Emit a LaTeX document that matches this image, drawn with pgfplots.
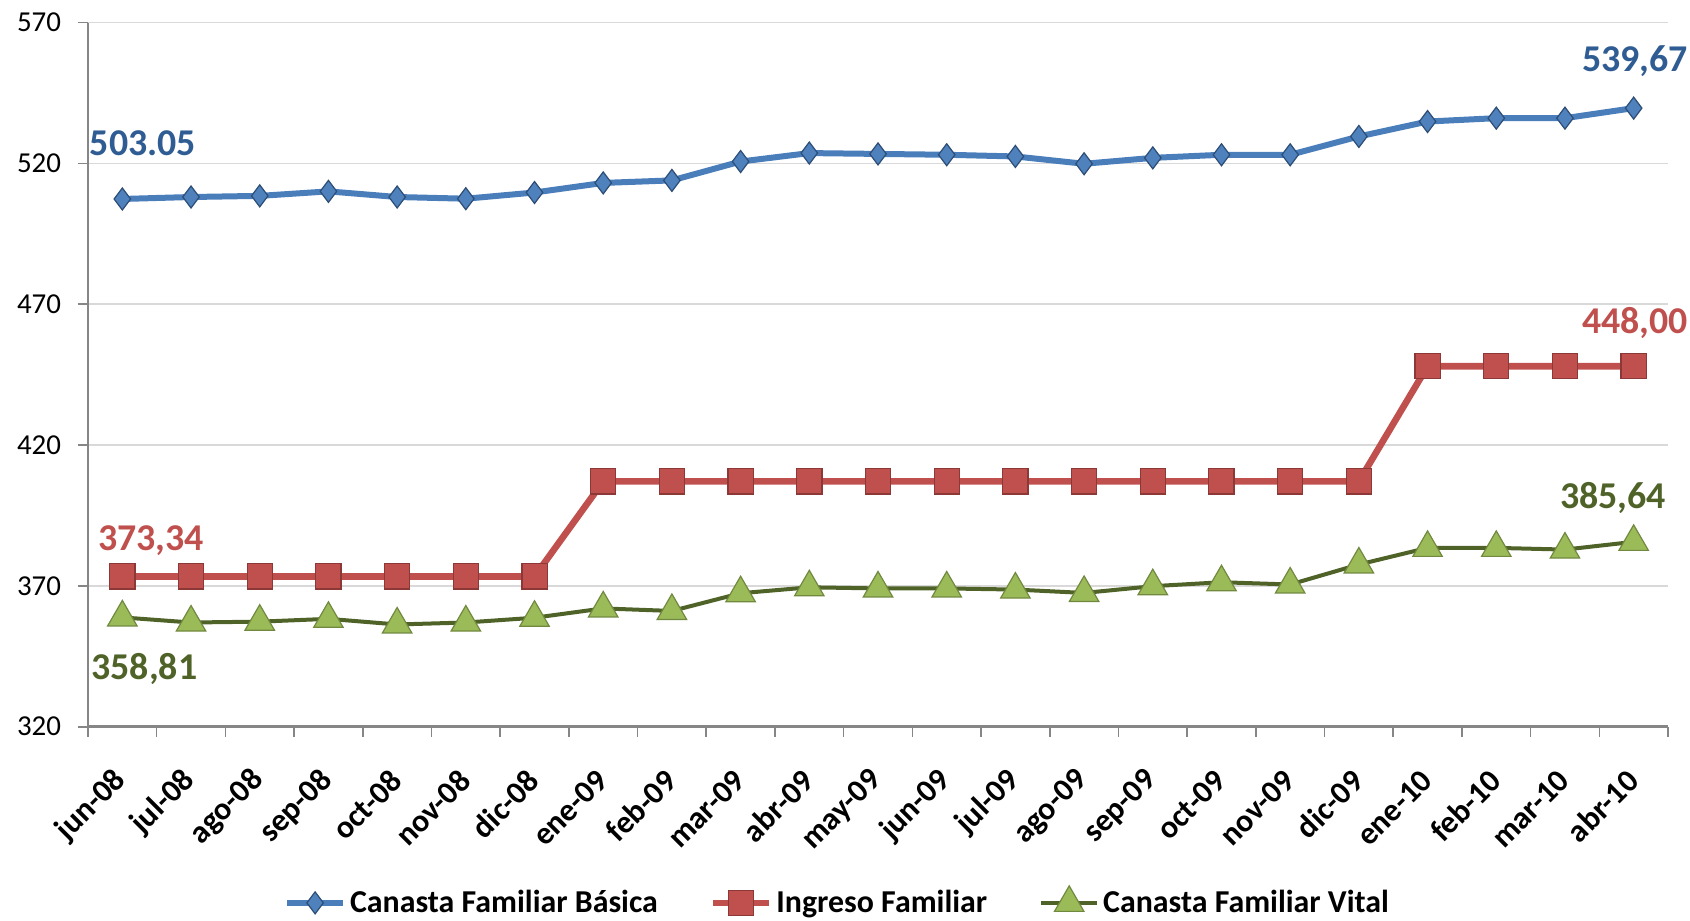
\documentclass[border=0pt]{standalone}
\usepackage{fontspec}
\setmainfont{Carlito}
\usepackage{pgfplots}
\usepackage{pgfplotstable}
\pgfplotsset{compat=1.18}

\definecolor{basica}{HTML}{4A7EBB}
\definecolor{basicaM}{HTML}{4F81BD}
\definecolor{basicaD}{HTML}{2C4D75}
\definecolor{ingreso}{HTML}{C0504D}
\definecolor{ingresoD}{HTML}{8C3836}
\definecolor{vital}{HTML}{4F6228}
\definecolor{vitalM}{HTML}{9BBB59}
\definecolor{vitalD}{HTML}{71893F}
\definecolor{lblblue}{HTML}{2F5C93}
\definecolor{axisgray}{HTML}{868686}
\definecolor{gridgray}{HTML}{D9D9D9}

% meses jun-08 .. abr-10
\pgfplotstableread{
x  basica  ingreso  vital
0  507.4   373.34   358.81
1  508.1   373.34   357.0
2  508.5   373.34   357.3
3  510.1   373.34   358.3
4  508.1   373.34   356.3
5  507.5   373.34   357.0
6  509.7   373.34   358.7
7  513.1   407.1    362.0
8  514.0   407.1    361.1
9  520.7   407.1    367.4
10 523.7   407.1    369.5
11 523.4   407.1    369.1
12 523.1   407.1    369.1
13 522.5   407.1    368.7
14 519.9   407.1    367.5
15 522.0   407.1    369.9
16 523.1   407.1    371.3
17 523.1   407.1    370.5
18 529.6   407.1    377.6
19 534.9   448.00   383.5
20 536.1   448.00   383.5
21 536.1   448.00   382.9
22 539.67  448.00   385.64
}\datos

\newcommand{\lbl}{\bfseries\fontsize{19}{21}\selectfont}

\begin{document}
\begin{tikzpicture}
\begin{axis}[
  scale only axis, width=790bp, height=352bp,
  xmin=-0.5, xmax=22.5, ymin=320, ymax=570,
  ytick={320,370,...,570},
  xtick={-0.5,0.5,...,22.5}, xticklabels={},
  extra x ticks={0,...,22},
  extra x tick labels={jun-08,jul-08,ago-08,sep-08,oct-08,nov-08,dic-08,ene-09,feb-09,mar-09,abr-09,may-09,jun-09,jul-09,ago-09,sep-09,oct-09,nov-09,dic-09,ene-10,feb-10,mar-10,abr-10},
  extra x tick style={major tick length=0pt, grid=none},
  axis lines*=left,
  x axis line style={draw=axisgray, line width=1.5bp},
  y axis line style={draw=axisgray, line width=1bp},
  tick align=outside, major tick length=5bp,
  tick style={draw=axisgray, line width=0.8bp},
  ymajorgrids, grid style={draw=gridgray, line width=0.8bp},
  /pgf/number format/assume math mode=true,
  yticklabel style={font=\fontsize{14.5}{16}\selectfont, text=black, xshift=-5bp},
  xticklabel style={font=\bfseries\fontsize{16}{18}\selectfont, xshift=2bp, yshift=-22bp, rotate=45, anchor=east},
  clip=false,
  legend columns=3,
  legend style={at={(0.475,-0.25)}, anchor=center, draw=none, fill=none,
    font=\bfseries\fontsize{16}{18}\selectfont,
    /tikz/every even column/.append style={column sep=24bp}},
  legend image code/.code={\draw[mark repeat=2,mark phase=2] plot coordinates {(0bp,0bp) (14bp,0bp) (28bp,0bp)};},
]
\addplot[color=basica, line width=3bp, mark=diamond*, mark size=5.5bp,
  mark options={fill=basicaM, draw=basicaD, line width=0.6bp}]
  table[x=x, y=basica]{\datos};
\addlegendentry{Canasta Familiar Básica}
\addplot[color=ingreso, line width=3.3bp, mark=square*, mark size=6.3bp,
  mark options={fill=ingreso, draw=ingresoD, line width=0.6bp}]
  table[x=x, y=ingreso]{\datos};
\addlegendentry{Ingreso Familiar}
\addplot[color=vital, line width=2bp, mark=triangle*, mark size=8.5bp,
  mark options={fill=vitalM, draw=vitalD, line width=0.6bp}]
  table[x=x, y=vital]{\datos};
\addlegendentry{Canasta Familiar Vital}

\node[text=lblblue, font=\lbl] at (axis cs:0.30,527.3) {503.05};
\node[text=lblblue, font=\lbl] at (axis cs:22.02,556.4) {539,67};
\node[text=ingreso, font=\lbl] at (axis cs:22.02,463.5) {448,00};
\node[text=ingreso, font=\lbl] at (axis cs:0.42,386.2) {373,34};
\node[text=vital, font=\lbl] at (axis cs:21.7,401.1) {385,64};
\node[text=vital, font=\lbl] at (axis cs:0.32,340.5) {358,81};

\coordinate (bl) at (rel axis cs:0,0);
\coordinate (tr) at (rel axis cs:1,1);
\end{axis}
\pgfresetboundingbox
\path ([shift={(-44bp,-97bp)}]bl) rectangle ([shift={(11bp,11.35bp)}]tr);
\end{tikzpicture}
\end{document}
